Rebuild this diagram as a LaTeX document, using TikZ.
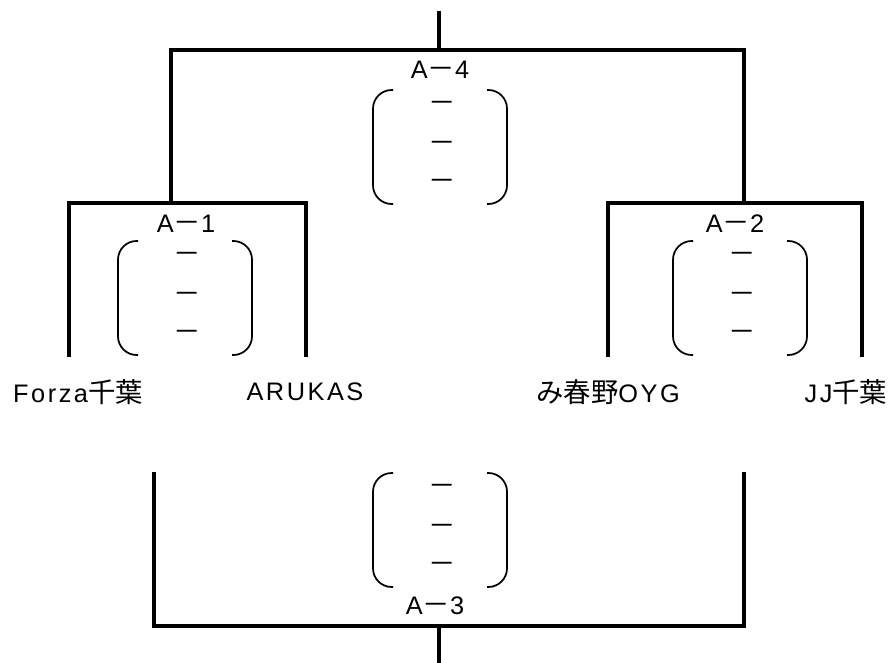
\documentclass[tikz,border=0pt]{standalone}
\usepackage{fontspec}
\setmainfont{Liberation Sans}[LetterSpace=10]
\newfontfamily\jpfont{Noto Sans CJK JP}[Scale=1.08]
\usetikzlibrary{positioning}
\tikzset{line/.style={line width=2.5pt, line join=miter}}
\tikzset{paren/.style={line width=1.3pt, rounded corners=14pt}}
\newcommand{\dash}{{\jpfont －}}

\begin{document}
\begin{tikzpicture}[x=0.75pt, y=-0.75pt, font=\fontsize{19}{23}\selectfont]
  \useasboundingbox (0,0) rectangle (892,663);
  % bracket corners
  \coordinate(top) at (439,11);
  \coordinate(a4m) at (439,50);
  \coordinate(a4l) at (171,50);
  \coordinate(a4r) at (744,50);
  \coordinate(a1m) at (171,203);
  \coordinate(a1l) at (69,203);
  \coordinate(a1r) at (306,203);
  \coordinate(forzaend) at (69,357);
  \coordinate(arukasend) at (306,357);
  \coordinate(a2m) at (744,203);
  \coordinate(a2l) at (608,203);
  \coordinate(a2r) at (862,203);
  \coordinate(miharuend) at (608,357);
  \coordinate(jjend) at (862,357);
  \coordinate(a3l) at (154,472);
  \coordinate(a3r) at (744,472);
  \coordinate(a3bl) at (154,626);
  \coordinate(a3br) at (744,626);
  \coordinate(a3m) at (439,626);
  \coordinate(bottom) at (439,663);
  % teams
  \node(forza) at (78,392) {Forza{\jpfont 千葉}};
  \node(arukas) at (305,392) {ARUKAS};
  \node(miharu) at (608,392) {{\jpfont み春野}OYG};
  \node(jj) at (846,392) {JJ{\jpfont 千葉}};
  % matches
  \node(m4) at (440,70) {A\dash4};
  \node(m1) at (186,224) {A\dash1};
  \node(m2) at (735,224) {A\dash2};
  \node(m3) at (435,606) {A\dash3};
  \draw[line] (top) -- (a4m);
  \draw[line] (a1m) -- (a4l) -- (a4r) -- (a2m);
  \draw[line] (forzaend) -- (a1l) -- (a1r) -- (arukasend);
  \draw[line] (miharuend) -- (a2l) -- (a2r) -- (jjend);
  \draw[line] (a3l) -- (a3bl) -- (a3br) -- (a3r);
  \draw[line] (a3m) -- (bottom);
  % score boxes
  \foreach \n/\x/\y in {s4/440/147, s1/185/298, s2/740/298, s3/440/530} {
    \draw[paren] (\x-47,\y-57) -- (\x-67,\y-57) -- (\x-67,\y+57) -- (\x-47,\y+57);
    \draw[paren] (\x+47,\y-57) -- (\x+67,\y-57) -- (\x+67,\y+57) -- (\x+47,\y+57);
    \node(\n a) at (\x+2,\y-40) {\dash};
    \node(\n b) at (\x+2,\y) {\dash};
    \node(\n c) at (\x+2,\y+38) {\dash};
  }
\end{tikzpicture}
\end{document}
